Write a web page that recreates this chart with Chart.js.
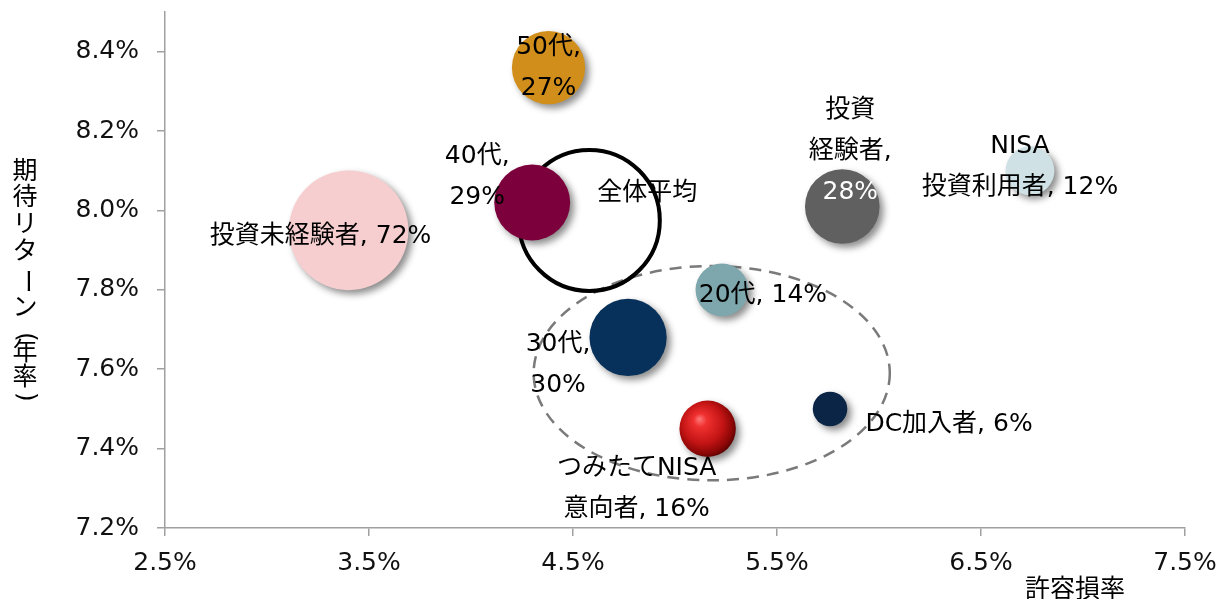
<!DOCTYPE html>
<html lang="ja">
<head>
<meta charset="utf-8">
<script src="https://cdn.jsdelivr.net/npm/chart.js@4/dist/chart.umd.min.js"></script>
<style>
  html, body { margin: 0; padding: 0; background: #ffffff; }
  #wrap { width: 1226px; height: 599px; }
</style>
</head>
<body>
<div id="wrap"><canvas id="c" width="1226" height="599"></canvas></div>
<script>
// ---- data ----
const categories = ['全体平均', '50代', '40代', '投資未経験者', '投資経験者', 'NISA投資利用者', '20代', '30代', 'つみたてNISA意向者', 'DC加入者'];
const riskTolerance = [4.58, 4.38, 4.30, 3.40, 5.82, 6.74, 5.23, 4.77, 5.16, 5.76];     // 許容損率 (%)
const expectedReturn = [7.975, 8.36, 8.02, 7.95, 8.01, 8.10, 7.80, 7.68, 7.45, 7.50];   // 期待リターン (%)
const shares = [100, 27, 29, 72, 28, 12, 14, 30, 16, 6];                                // 構成比 (%)
const labelLines = [
  ['全体平均'],
  ['50代,', '27%'],
  ['40代,', '29%'],
  ['投資未経験者, 72%'],
  ['投資', '経験者,', '28%'],
  ['NISA', '投資利用者, 12%'],
  ['20代, 14%'],
  ['30代,', '30%'],
  ['つみたてNISA', '意向者, 16%'],
  ['DC加入者, 6%']
];
const xTicks = [2.5, 3.5, 4.5, 5.5, 6.5, 7.5];
const yTicks = [7.2, 7.4, 7.6, 7.8, 8.0, 8.2, 8.4];
const xTitle = '許容損率';
const yTitle = '期待リターン（年率）';

// ---- styles / layout (not data) ----
const FONT = '"DejaVu Sans", "Noto Sans CJK JP", sans-serif';
const fills = ['rgba(0,0,0,0)', '#D18E1B', '#7C003B', '#F6CECF', '#606060', '#CFE1E4', '#7EA7AD', '#07305A', 'RED', '#0B2547'];
const labelStyle = [
  { dx: 58, dy: -27 },
  { dx: 0, dy: -20 },
  { dx: -55, dy: -46 },
  { dx: -28, dy: 6 },
  { dx: 8, dy: -96, colors: ['#000', '#000', '#ffffff'] },
  { dx: -10, dy: -24 },
  { dx: 41, dy: 6 },
  { dx: -70, dy: 7 },
  { dx: -71, dy: 40 },
  { dx: 119, dy: 16 }
];
const LINE_H = 41;
const R_SCALE = 7.05;
// vertical y-title glyph placement
const yTitleX = 25;
const yTitleY = [172, 198, 225, 252, 281, 308, 337, 353, 378, 397];
// dashed group ellipse (in data units)
const groupEllipse = { cx: 5.18, cy: 7.59, rx: 0.873, ry: 0.27 };

const points = riskTolerance.map((x, i) => ({ x: x, y: expectedReturn[i], r: R_SCALE * Math.sqrt(shares[i]) }));

function bubbleFill(chart, i) {
  const c = fills[i];
  if (c !== 'RED') return c;
  if (!chart.chartArea || !chart.scales.x) return '#C81010';
  const px = chart.scales.x.getPixelForValue(points[i].x);
  const py = chart.scales.y.getPixelForValue(points[i].y);
  const r = points[i].r;
  const g = chart.ctx.createRadialGradient(px - r * 0.3, py - r * 0.35, 0, px - r * 0.1, py - r * 0.1, r * 1.2);
  g.addColorStop(0, '#FF7A7A');
  g.addColorStop(0.2, '#F03030');
  g.addColorStop(0.6, '#C31414');
  g.addColorStop(0.85, '#8A0606');
  g.addColorStop(1, '#4A0000');
  return g;
}

const shadowPlugin = {
  id: 'shadow',
  beforeDatasetDraw(chart, args) {
    if (args.index === 1) {
      const c = chart.ctx;
      c.save();
      c.shadowColor = 'rgba(0,0,0,0.45)';
      c.shadowBlur = 7;
      c.shadowOffsetX = 4;
      c.shadowOffsetY = 4;
    }
  },
  afterDatasetDraw(chart, args) {
    if (args.index === 1) chart.ctx.restore();
  }
};

const ellipsePlugin = {
  id: 'groupEllipse',
  beforeDatasetsDraw(chart) {
    const c = chart.ctx, xs = chart.scales.x, ys = chart.scales.y;
    const cx = xs.getPixelForValue(groupEllipse.cx);
    const cy = ys.getPixelForValue(groupEllipse.cy);
    const rx = Math.abs(xs.getPixelForValue(groupEllipse.cx + groupEllipse.rx) - cx);
    const ry = Math.abs(ys.getPixelForValue(groupEllipse.cy + groupEllipse.ry) - cy);
    c.save();
    c.beginPath();
    c.ellipse(cx, cy, rx, ry, 0, 0, Math.PI * 2);
    c.setLineDash([12, 8]);
    c.lineWidth = 2.5;
    c.strokeStyle = '#7a7a7a';
    c.stroke();
    c.restore();
  }
};

const labelPlugin = {
  id: 'labels',
  afterDatasetsDraw(chart) {
    const c = chart.ctx;
    c.save();
    c.font = '25px ' + FONT;
    c.textAlign = 'center';
    c.textBaseline = 'middle';
    const metaBase = chart.getDatasetMeta(0);
    const metaMain = chart.getDatasetMeta(1);
    categories.forEach((cat, i) => {
      const el = i === 0 ? metaBase.data[0] : metaMain.data[i - 1];
      if (!el) return;
      const st = labelStyle[i];
      labelLines[i].forEach((line, k) => {
        c.fillStyle = (st.colors && st.colors[k]) || '#000000';
        c.fillText(line, el.x + st.dx, el.y + st.dy + k * LINE_H);
      });
    });
    // x axis title
    const area = chart.chartArea;
    c.fillStyle = '#000000';
    c.fillText(xTitle, area.right - 110, chart.height - 9);
    // y axis title, vertical writing
    const chars = Array.from(yTitle);
    chars.forEach((ch, k) => {
      const y = yTitleY[k];
      if (ch === 'ー' || ch === '（' || ch === '）') {
        const g = ch === '（' ? '(' : ch === '）' ? ')' : ch;
        c.save();
        c.translate(yTitleX, y);
        c.rotate(Math.PI / 2);
        c.fillText(g, 0, 0);
        c.restore();
      } else {
        c.fillText(ch, yTitleX, y);
      }
    });
    c.restore();
  }
};

const tickFont = { family: FONT, size: 25 };
const axisColor = '#A0A0A0';

new Chart(document.getElementById('c'), {
  type: 'bubble',
  data: {
    datasets: [
      {
        label: categories[0],
        data: [points[0]],
        backgroundColor: 'rgba(0,0,0,0)',
        borderColor: '#000000',
        borderWidth: 4,
        order: 2
      },
      {
        label: 'セグメント',
        data: points.slice(1),
        backgroundColor: (ctx) => {
          if (ctx.type !== 'data') return '#888';
          return bubbleFill(ctx.chart, ctx.dataIndex + 1);
        },
        borderWidth: 0,
        order: 1
      }
    ]
  },
  options: {
    responsive: false,
    animation: false,
    events: [],
    layout: { autoPadding: false, padding: { top: 12, right: 41, left: 0, bottom: 0 } },
    plugins: { legend: { display: false }, tooltip: { enabled: false } },
    scales: {
      x: {
        type: 'linear',
        min: 2.5,
        max: 7.5,
        afterBuildTicks: (s) => { s.ticks = xTicks.map(v => ({ value: v })); },
        afterFit: (s) => { s.height = 71; s.paddingRight = 0; s.paddingLeft = 0; },
        ticks: {
          font: tickFont,
          color: '#111111',
          padding: 12,
          maxRotation: 0,
          autoSkip: false,
          callback: (v) => Number(v).toFixed(1) + '%'
        },
        grid: { drawOnChartArea: false, drawTicks: true, tickLength: 8, color: axisColor, lineWidth: 1.5 },
        border: { display: true, color: axisColor, width: 1.5 }
      },
      y: {
        type: 'linear',
        min: 7.2,
        max: 8.5,
        afterBuildTicks: (s) => { s.ticks = yTicks.map(v => ({ value: v })); },
        afterFit: (s) => { s.width = 165; s.paddingTop = 0; s.paddingBottom = 0; },
        ticks: {
          font: tickFont,
          color: '#111111',
          padding: 18,
          autoSkip: false,
          callback: (v) => Number(v).toFixed(1) + '%'
        },
        grid: { drawOnChartArea: false, drawTicks: true, tickLength: 8, color: axisColor, lineWidth: 1.5 },
        border: { display: true, color: axisColor, width: 1.5 }
      }
    }
  },
  plugins: [ellipsePlugin, shadowPlugin, labelPlugin]
});
</script>
</body>
</html>
